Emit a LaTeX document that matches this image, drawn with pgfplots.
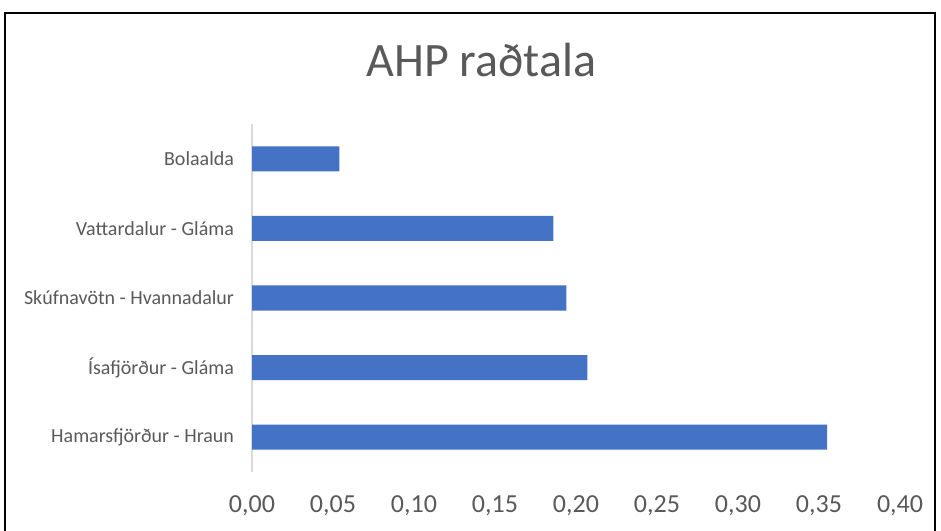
\documentclass[border=0pt]{standalone}
\usepackage{fontspec}
\setmainfont{Carlito}
\usepackage{pgfplots}
\pgfplotsset{compat=1.18}
\definecolor{barblue}{HTML}{4472C4}
\definecolor{txtgray}{HTML}{595959}
\definecolor{axgray}{HTML}{D9D9D9}
\begin{document}
\begin{tikzpicture}
% page = 941x531 px, 1px = 0.75pt
\useasboundingbox (0,0) rectangle (705.75pt,398.25pt);
\draw[black, line width=1.5pt] (3.75pt,-5pt) -- (3.75pt,388.5pt) -- (701.25pt,388.5pt) -- (701.25pt,-5pt);
\node[anchor=base, text=txtgray, font=\fontsize{36}{40}\selectfont, inner sep=0pt] at (361pt,340.5pt) {AHP raðtala};
\begin{axis}[
    at={(189pt,44.25pt)}, anchor=south west,
    scale only axis,
    width=486pt, height=261pt,
    xbar,
    bar width=18.75pt,
    xmin=0, xmax=0.4,
    ymin=0.5, ymax=5.5,
    xtick={0,0.05,...,0.401},
    ytick={1,2,3,4,5},
    yticklabels={Hamarsfjörður - Hraun, Ísafjörður - Gláma, Skúfnavötn - Hvannadalur, Vattardalur - Gláma, Bolaalda},
    axis lines*=left,
    x axis line style={draw=none},
    y axis line style={draw=axgray, line width=1.5pt},
    major tick length=0pt,
    tick style={draw=none},
    /pgf/number format/assume math mode=true,
    xticklabel={\pgfmathprintnumber[fixed, fixed zerofill, precision=2, use comma]{\tick}},
    xticklabel style={text=txtgray, font=\fontsize{19.5}{22}\selectfont, yshift=-14pt},
    yticklabel style={text=txtgray, font=\fontsize{15}{18}\selectfont, xshift=-10pt},
]
\addplot[draw=none, fill=barblue] coordinates {
    (0.355,1)
    (0.207,2)
    (0.194,3)
    (0.186,4)
    (0.054,5)
};
\end{axis}
\end{tikzpicture}
\end{document}
